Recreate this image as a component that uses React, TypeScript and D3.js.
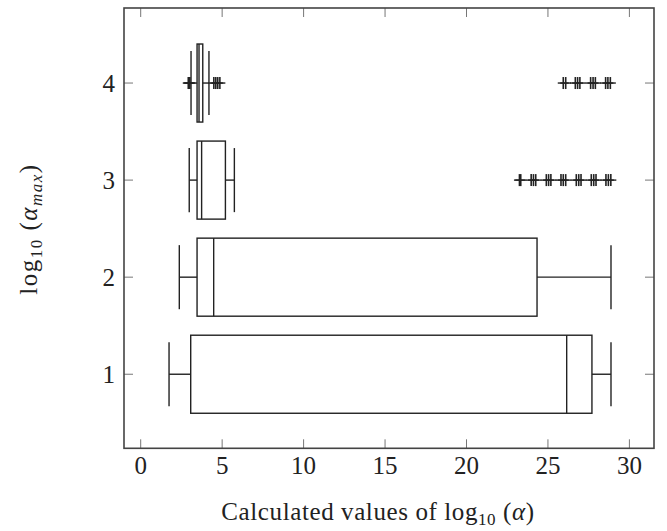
import React from "react";
import * as d3 from "d3";

const categories = [1, 2, 3, 4];
const lowerWhisker = [1.74, 2.37, 2.98, 3.09];
const q1 = [3.07, 3.46, 3.46, 3.46];
const median = [26.15, 4.48, 3.74, 3.58];
const q3 = [27.7, 24.33, 5.2, 3.81];
const upperWhisker = [28.87, 28.87, 5.75, 4.19];
const outliers1: number[] = [];
const outliers2: number[] = [];
const outliers3 = [23.25, 23.33, 23.97, 24.11, 24.25, 24.9, 25.04, 25.18, 25.8, 25.94, 26.09, 26.74, 26.89, 27.03, 27.66, 27.81, 27.95, 28.56, 28.71, 28.86];
const outliers4 = [2.92, 2.97, 3.02, 4.49, 4.61, 4.73, 4.86, 25.94, 26.09, 26.68, 26.82, 26.96, 27.62, 27.77, 27.91, 28.54, 28.68, 28.83];
const outliers = [outliers1, outliers2, outliers3, outliers4];
const xTicks = [0, 5, 10, 15, 20, 25, 30];
const yTicks = [1, 2, 3, 4];

const W = 667;
const H = 531;
const L = 124, R = 654, T = 8, B = 448.3;

export default function App() {
  const x = d3.scaleLinear().domain([-1.025, 31.51]).range([L, R]);
  const y = d3.scaleLinear().domain([0.237, 4.773]).range([B, T]);
  const boxHalf = 0.402;
  const capHalf = 0.33;
  const mk = 5.5;
  const stroke = "#222";
  const sw = 1.4;
  const font = "'Liberation Serif', 'DejaVu Serif', serif";
  const fs = 25;
  const sub = 17;
  const tickLen = 9;

  return (
    <svg width={W} height={H} style={{ position: "absolute", left: 0, top: 0, background: "#fff" }}>
      {/* boxes */}
      {categories.map((c, i) => {
        const yc = y(c);
        const yt = y(c + boxHalf);
        const yb = y(c - boxHalf);
        const ct = y(c + capHalf);
        const cb = y(c - capHalf);
        return (
          <g key={c} stroke={stroke} strokeWidth={sw} fill="none">
            <line x1={x(lowerWhisker[i])} x2={x(q1[i])} y1={yc} y2={yc} />
            <line x1={x(q3[i])} x2={x(upperWhisker[i])} y1={yc} y2={yc} />
            <line x1={x(lowerWhisker[i])} x2={x(lowerWhisker[i])} y1={ct} y2={cb} />
            <line x1={x(upperWhisker[i])} x2={x(upperWhisker[i])} y1={ct} y2={cb} />
            <rect x={x(q1[i])} y={yt} width={x(q3[i]) - x(q1[i])} height={yb - yt} />
            <line x1={x(median[i])} x2={x(median[i])} y1={yt} y2={yb} />
            {outliers[i].map((o, j) => (
              <g key={j}>
                <line x1={x(o) - mk} x2={x(o) + mk} y1={yc} y2={yc} />
                <line x1={x(o)} x2={x(o)} y1={yc - mk - 0.5} y2={yc + mk + 0.5} strokeWidth={1.6} />
              </g>
            ))}
          </g>
        );
      })}
      {/* ticks */}
      <g stroke="#777" strokeWidth={1}>
        {xTicks.map((t) => (
          <g key={t}>
            <line x1={x(t)} x2={x(t)} y1={B} y2={B - tickLen} />
            <line x1={x(t)} x2={x(t)} y1={T} y2={T + tickLen} />
          </g>
        ))}
        {yTicks.map((t) => (
          <g key={t}>
            <line x1={L} x2={L + tickLen} y1={y(t)} y2={y(t)} />
            <line x1={R} x2={R - tickLen} y1={y(t)} y2={y(t)} />
          </g>
        ))}
      </g>
      {/* frame */}
      <rect x={L} y={T} width={R - L} height={B - T} fill="none" stroke="#444" strokeWidth={1.6} />
      {/* tick labels */}
      <g fontFamily={font} fontSize={fs} fill="#222">
        {xTicks.map((t) => (
          <text key={t} x={x(t)} y={474} textAnchor="middle">{t}</text>
        ))}
        {yTicks.map((t) => (
          <text key={t} x={115} y={y(t) + 8.5} textAnchor="end">{t}</text>
        ))}
      </g>
      {/* x title */}
      <text x={378} y={520} textAnchor="middle" fontFamily={font} fontSize={fs} fill="#222" letterSpacing={0.6}>
        Calculated values of log
        <tspan fontSize={sub} dy={5}>10</tspan>
        <tspan dy={-5}> (</tspan>
        <tspan fontStyle="italic">α</tspan>
        <tspan>)</tspan>
      </text>
      {/* y title */}
      <text transform={`translate(37,229) rotate(-90)`} textAnchor="middle" fontFamily={font} fontSize={fs} fill="#222" letterSpacing={1.5}>
        log
        <tspan fontSize={sub} dy={5}>10</tspan>
        <tspan dy={-5}> (</tspan>
        <tspan fontStyle="italic">α</tspan>
        <tspan fontSize={sub} fontStyle="italic" dy={5}>max</tspan>
        <tspan dy={-5}>)</tspan>
      </text>
    </svg>
  );
}
